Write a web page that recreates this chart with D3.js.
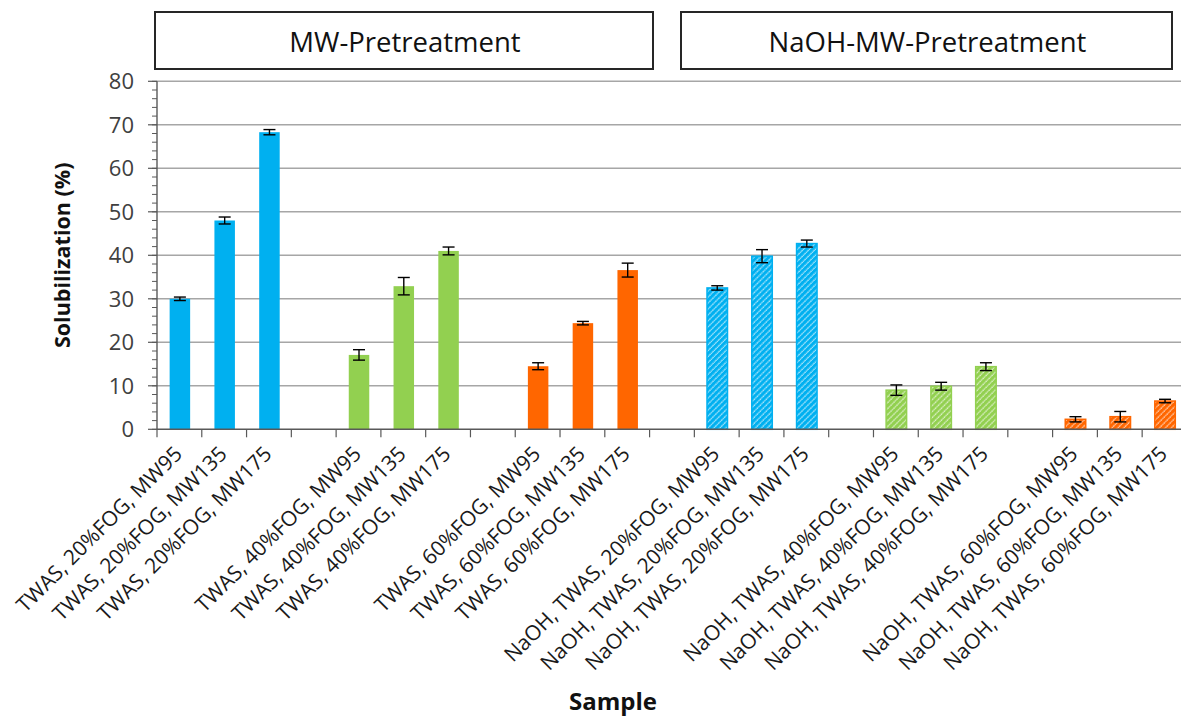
<!DOCTYPE html>
<html>
<head>
<meta charset="utf-8">
<script src="https://cdn.jsdelivr.net/npm/d3@7"></script>
<style>
  html, body { margin: 0; padding: 0; background: #fff; }
  svg { display: block; font-family: "Open Sans", Lato, sans-serif; }
</style>
</head>
<body>
<svg id="chart" width="1181" height="717"></svg>
<script>
// Sample names, in plotting order
const categories = [
  "TWAS, 20%FOG, MW95", "TWAS, 20%FOG, MW135", "TWAS, 20%FOG, MW175",
  "TWAS, 40%FOG, MW95", "TWAS, 40%FOG, MW135", "TWAS, 40%FOG, MW175",
  "TWAS, 60%FOG, MW95", "TWAS, 60%FOG, MW135", "TWAS, 60%FOG, MW175",
  "NaOH, TWAS, 20%FOG, MW95", "NaOH, TWAS, 20%FOG, MW135", "NaOH, TWAS, 20%FOG, MW175",
  "NaOH, TWAS, 40%FOG, MW95", "NaOH, TWAS, 40%FOG, MW135", "NaOH, TWAS, 40%FOG, MW175",
  "NaOH, TWAS, 60%FOG, MW95", "NaOH, TWAS, 60%FOG, MW135", "NaOH, TWAS, 60%FOG, MW175"
];
// Solubilization (%) and standard deviation
const values = [30.0, 48.0, 68.3, 17.1, 32.9, 41.0, 14.5, 24.4, 36.6,
                32.5, 39.8, 42.7, 9.0, 9.9, 14.4, 2.3, 2.9, 6.5];
const errors = [0.4, 0.8, 0.6, 1.2, 2.0, 0.9, 0.8, 0.4, 1.6,
                0.5, 1.5, 0.8, 1.2, 0.9, 0.9, 0.6, 1.2, 0.4];
// FOG level of each sample and whether it was NaOH-treated
const fogLevel = ["20", "20", "20", "40", "40", "40", "60", "60", "60",
                  "20", "20", "20", "40", "40", "40", "60", "60", "60"];
const naoh = [false, false, false, false, false, false, false, false, false,
              true, true, true, true, true, true, true, true, true];
const yTicks = [0, 10, 20, 30, 40, 50, 60, 70, 80];
const panelTitles = ["MW-Pretreatment", "NaOH-MW-Pretreatment"];

const fogColor = { "20": "#00b0f0", "40": "#92d050", "60": "#ff6600" };

const svg = d3.select("#chart");
const left = 157, plotTop = 81.3, plotBottom = 429.3;

// slots: each sample plus an empty slot after every group of three
const slots = [];
categories.forEach((c, i) => {
  slots.push(c);
  if (i % 3 === 2 && i < categories.length - 1) slots.push("gap" + i);
});
const slotW = 44.78;
const x = d3.scaleBand().domain(slots).range([left, left + slots.length * slotW]).padding(0);
const y = d3.scaleLinear().domain([0, 80]).range([plotBottom, plotTop]);

// hatch patterns for NaOH samples
const defs = svg.append("defs");
Object.entries(fogColor).forEach(([k, col]) => {
  const p = defs.append("pattern")
    .attr("id", "hatch" + k)
    .attr("patternUnits", "userSpaceOnUse")
    .attr("width", 4.2).attr("height", 4.2)
    .attr("patternTransform", "rotate(45)");
  p.append("rect").attr("width", 4.2).attr("height", 4.2).attr("fill", col);
  p.append("line").attr("x1", 1).attr("x2", 1).attr("y1", 0).attr("y2", 4.2)
    .attr("stroke", "#fff").attr("stroke-width", 1.1).attr("stroke-opacity", 0.75)
    .attr("stroke-dasharray", "1.6,0.5");
});

// horizontal gridlines
svg.append("g").selectAll("line").data(yTicks.filter(t => t > 0)).join("line")
  .attr("x1", left).attr("x2", 1181)
  .attr("y1", d => y(d)).attr("y2", d => y(d))
  .attr("stroke", "#a6a6a6").attr("stroke-width", 1.5);

// panel title boxes
const boxes = [[155, 653], [681, 1172]];
boxes.forEach((b, i) => {
  svg.append("rect").attr("x", b[0]).attr("y", 12).attr("width", b[1] - b[0]).attr("height", 57)
    .attr("fill", "#fff").attr("stroke", "#262626").attr("stroke-width", 2);
  svg.append("text").attr("x", (b[0] + b[1]) / 2 + 1).attr("y", 52)
    .attr("text-anchor", "middle").attr("font-size", 27.5).attr("fill", "#111")
    .text(panelTitles[i]);
});

// bars
const bw = 20.5;
const bars = categories.map((c, i) => ({ c, v: values[i], e: errors[i], fog: fogLevel[i], h: naoh[i] }));
svg.append("g").selectAll("rect").data(bars).join("rect")
  .attr("x", d => x(d.c) + x.bandwidth() / 2 - bw / 2 + 0.5)
  .attr("width", bw)
  .attr("y", d => y(d.v))
  .attr("height", d => y(0) - y(d.v))
  .attr("fill", d => d.h ? `url(#hatch${d.fog})` : fogColor[d.fog])
  .attr("stroke", d => fogColor[d.fog])
  .attr("stroke-width", d => d.h ? 1.5 : 0);

// error bars
const eb = svg.append("g").attr("stroke", "#000").attr("stroke-width", 1.4);
bars.forEach(d => {
  const cx = x(d.c) + x.bandwidth() / 2 + 0.5;
  eb.append("line").attr("x1", cx).attr("x2", cx).attr("y1", y(d.v + d.e)).attr("y2", y(d.v - d.e));
  [d.v + d.e, d.v - d.e].forEach(v =>
    eb.append("line").attr("x1", cx - 6).attr("x2", cx + 6).attr("y1", y(v)).attr("y2", y(v)));
});

// y axis with minor ticks every 2 units
const yAxis = svg.append("g");
yAxis.append("line").attr("x1", left).attr("x2", left).attr("y1", plotTop).attr("y2", plotBottom)
  .attr("stroke", "#595959").attr("stroke-width", 1.4);
yAxis.selectAll("line.minor").data(d3.range(0, 81, 2)).join("line").attr("class", "minor")
  .attr("x1", left - 5).attr("x2", left)
  .attr("y1", d => y(d)).attr("y2", d => y(d))
  .attr("stroke", "#595959").attr("stroke-width", 1);
yAxis.selectAll("line.major").data(yTicks).join("line").attr("class", "major")
  .attr("x1", left - 9).attr("x2", left)
  .attr("y1", d => y(d)).attr("y2", d => y(d))
  .attr("stroke", "#595959").attr("stroke-width", 1.2);
yAxis.selectAll("text").data(yTicks).join("text")
  .attr("x", left - 23).attr("y", d => y(d) + 8)
  .attr("text-anchor", "end").attr("font-size", 22).attr("fill", "#404040")
  .text(d => d);

// x axis line and tick marks between categories
const xAxis = svg.append("g");
xAxis.append("line").attr("x1", left).attr("x2", 1181).attr("y1", plotBottom).attr("y2", plotBottom)
  .attr("stroke", "#595959").attr("stroke-width", 1.4);
xAxis.selectAll("line.tick").data(slots.map(s => x(s)).concat([x.range()[1]])).join("line").attr("class", "tick")
  .attr("x1", d => d).attr("x2", d => d).attr("y1", plotBottom).attr("y2", plotBottom + 8)
  .attr("stroke", "#595959").attr("stroke-width", 1.2);
xAxis.selectAll("text").data(categories).join("text")
  .attr("text-anchor", "end").attr("font-size", 21).attr("fill", "#1a1a1a")
  .attr("transform", d => `translate(${x(d) + x.bandwidth() / 2 + 4},${plotBottom + 26}) rotate(-45)`)
  .text(d => d);

// axis titles
svg.append("text").attr("transform", `translate(70,${(plotTop + plotBottom) / 2}) rotate(-90)`)
  .attr("text-anchor", "middle").attr("font-size", 21.5).attr("font-weight", "bold").attr("fill", "#111")
  .text("Solubilization (%)");
svg.append("text").attr("x", 613).attr("y", 710)
  .attr("text-anchor", "middle").attr("font-size", 24).attr("font-weight", "bold").attr("fill", "#111")
  .text("Sample");
</script>
</body>
</html>
